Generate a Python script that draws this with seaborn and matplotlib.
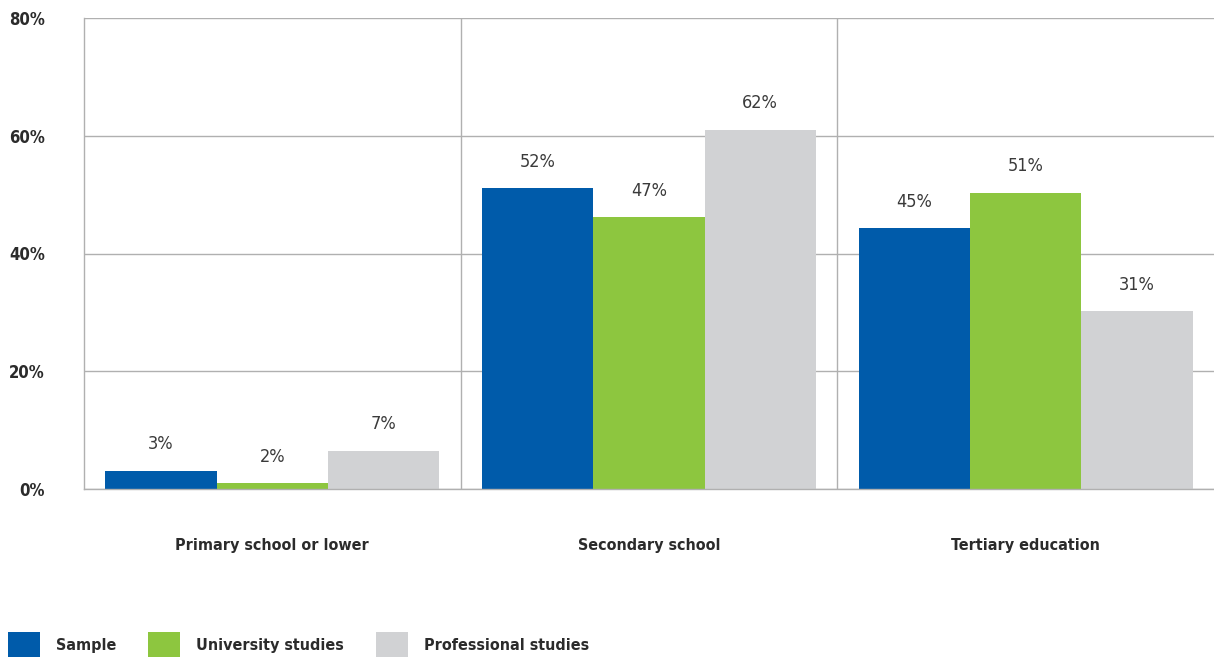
import pandas as pd
import matplotlib.pyplot as plt
import seaborn as sns

# Values (bar heights) and the printed labels
levels = ['Primary school or lower', 'Secondary school', 'Tertiary education']
groups = ['Sample', 'University studies', 'Professional studies']
sample_vals = [3.1, 51.1, 44.3]
university_vals = [1.0, 46.2, 50.3]
professional_vals = [6.5, 61.0, 30.2]
sample_labels = ['3%', '52%', '45%']
university_labels = ['2%', '47%', '51%']
professional_labels = ['7%', '62%', '31%']
colors = ['#005BAA', '#8DC63F', '#D1D2D4']
y_ticks = [0, 20, 40, 60, 80]


# Build a long-format table for seaborn
def build_frame():
    rows = []
    for grp, vals in zip(groups, [sample_vals, university_vals, professional_vals]):
        for lvl, v in zip(levels, vals):
            rows.append({'level': lvl, 'group': grp, 'value': v})
    return pd.DataFrame(rows)


def plot_chart(df):
    sns.set_style('white')
    plt.rcParams['font.family'] = ['DejaVu Sans']
    plt.rcParams['font.stretch'] = 'condensed'
    text_color = '#2b2b2b'
    line_color = '#b0b0b0'
    fs = 11.5

    fig = plt.figure(figsize=(12.14, 6.6), dpi=100)
    ax = fig.add_axes([84 / 1214, 1 - 489 / 660, 1 - 84 / 1214, (489 - 18) / 660])

    sns.barplot(data=df, x='level', y='value', hue='group', palette=colors,
                width=0.886, saturation=1, linewidth=0, ax=ax, legend=True,
                errorbar=None)

    ax.set_ylim(0, 80)
    ax.set_xlim(-0.5, 2.5)
    ax.set_yticks(y_ticks)
    ax.set_yticklabels([f'{t}%' for t in y_ticks], fontsize=12, fontweight='bold',
                       color=text_color)
    ax.set_xticks(range(len(levels)))
    ax.set_xticklabels(levels, fontsize=fs, fontweight='bold', color=text_color)
    ax.tick_params(axis='y', length=0, pad=28)
    ax.tick_params(axis='x', length=0, pad=35)
    ax.set_xlabel('')
    ax.set_ylabel('')

    # horizontal grid and category separators
    ax.yaxis.grid(True, color=line_color, linewidth=1)
    for xb in [0.5, 1.5]:
        ax.axvline(xb, color=line_color, linewidth=1)
    ax.set_axisbelow(True)
    for side in ['top', 'right']:
        ax.spines[side].set_visible(False)
    for side in ['left', 'bottom']:
        ax.spines[side].set_color(line_color)
        ax.spines[side].set_linewidth(1)

    # value labels above bars
    all_labels = [sample_labels, university_labels, professional_labels]
    for container, labels in zip(ax.containers, all_labels):
        for bar, lab in zip(container, labels):
            ax.annotate(lab, (bar.get_x() + bar.get_width() / 2, bar.get_height()),
                        xytext=(0, 19), textcoords='offset points', ha='center',
                        va='center', fontsize=13, color='#3a3a3a')

    # legend along the bottom
    handles, lbls = ax.get_legend_handles_labels()
    ax.get_legend().remove()
    leg = fig.legend(handles, lbls, loc='center left', bbox_to_anchor=(8 / 1214, 15.5 / 660),
                     ncol=3, frameon=False, borderpad=0, borderaxespad=0,
                     handlelength=2.0, handleheight=1.94, handletextpad=1.0,
                     columnspacing=2.0,
                     prop={'size': fs, 'weight': 'bold', 'stretch': 'condensed'})
    for t in leg.get_texts():
        t.set_color(text_color)

    fig.savefig('out.png', dpi=100)


def main():
    df = build_frame()
    plot_chart(df)


if __name__ == '__main__':
    main()
